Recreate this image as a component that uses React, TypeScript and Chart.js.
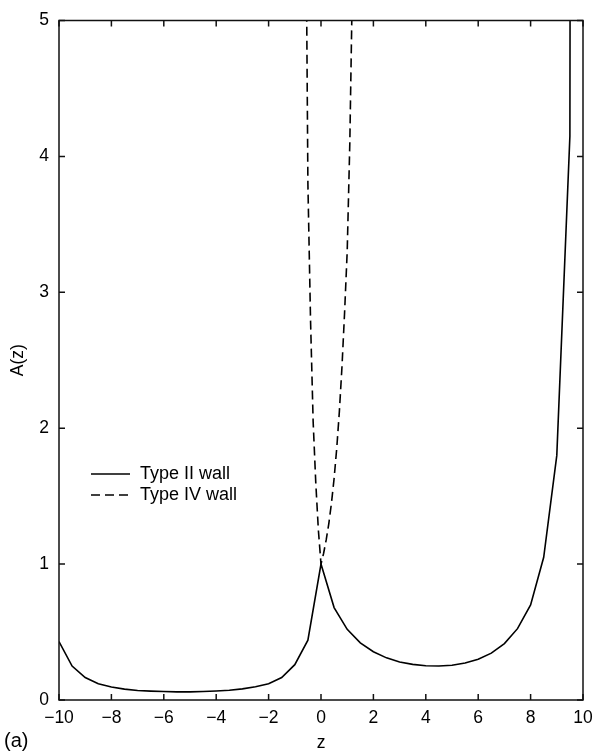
import React, { useEffect, useRef } from 'react';
import { Chart, registerables } from 'chart.js';

Chart.register(...registerables);

// ---- data ----
const zTypeII = [
  -10, -9.5, -9, -8.5, -8, -7.5, -7, -6.5, -6, -5.5, -5, -4.5, -4, -3.5, -3, -2.5, -2, -1.5, -1, -0.5,
  0, 0.5, 1, 1.5, 2, 2.5, 3, 3.5, 4, 4.5, 5, 5.5, 6, 6.5, 7, 7.5, 8, 8.5, 9, 9.5, 10,
];
const aTypeII = [
  0.43, 0.25, 0.165, 0.12, 0.095, 0.08, 0.07, 0.065, 0.062, 0.06, 0.06, 0.062, 0.066, 0.072, 0.082, 0.097, 0.12, 0.165, 0.26, 0.44,
  1.0, 0.68, 0.52, 0.42, 0.355, 0.31, 0.28, 0.262, 0.252, 0.25, 0.256, 0.272, 0.3, 0.345, 0.415, 0.525, 0.7, 1.05, 1.8, 4.15, 80,
];
const zTypeIV = [-0.6, -0.5, -0.4, -0.3, -0.2, -0.1, 0, 0.1, 0.2, 0.3, 0.4, 0.5, 0.6, 0.7, 0.8, 0.9, 1.0, 1.1, 1.2];
const aTypeIV = [6.5, 3.8, 2.8, 2.05, 1.6, 1.25, 1.0, 1.08, 1.18, 1.3, 1.45, 1.63, 1.85, 2.12, 2.45, 2.85, 3.3, 4.1, 5.3];

const xTicks = [-10, -8, -6, -4, -2, 0, 2, 4, 6, 8, 10];
const yTicks = [0, 1, 2, 3, 4, 5];
const seriesLabels = ['Type II wall', 'Type IV wall'];
const xTitle = 'z';
const yTitle = 'A(z)';
const panelLabel = '(a)';

const FONT_FAMILY = '"Liberation Sans", Arial, Helvetica, sans-serif';

const fmt = (v: number) => (v < 0 ? '\u2212' + Math.abs(v) : String(v));

const framePlugin = {
  id: 'frameAndLegend',
  afterDatasetsDraw(chart: any) {
    const { ctx, chartArea, scales } = chart;
    const { left, right, top, bottom } = chartArea;
    const x = scales.x;
    const y = scales.y;
    ctx.save();
    ctx.strokeStyle = '#111';
    ctx.lineWidth = 1.5;
    ctx.setLineDash([]);
    ctx.strokeRect(left, top, right - left, bottom - top);
    const tl = 6;
    ctx.beginPath();
    xTicks.forEach((v) => {
      const px = x.getPixelForValue(v);
      ctx.moveTo(px, bottom);
      ctx.lineTo(px, bottom - tl);
      ctx.moveTo(px, top);
      ctx.lineTo(px, top + tl);
    });
    yTicks.forEach((v) => {
      const py = y.getPixelForValue(v);
      ctx.moveTo(left, py);
      ctx.lineTo(left + tl, py);
      ctx.moveTo(right, py);
      ctx.lineTo(right - tl, py);
    });
    ctx.stroke();

    // legend
    const legendRows = [
      { y: 474, dash: [] as number[] },
      { y: 495, dash: [9, 5] },
    ];
    ctx.font = `18px ${FONT_FAMILY}`;
    ctx.fillStyle = '#000';
    ctx.textBaseline = 'middle';
    ctx.textAlign = 'left';
    legendRows.forEach((r, i) => {
      ctx.beginPath();
      ctx.setLineDash(r.dash);
      ctx.lineWidth = 1.5;
      ctx.strokeStyle = '#000';
      ctx.moveTo(91, r.y);
      ctx.lineTo(130, r.y);
      ctx.stroke();
      ctx.setLineDash([]);
      ctx.fillText(seriesLabels[i], 140, r.y);
    });

    // panel label
    ctx.font = `20px ${FONT_FAMILY}`;
    ctx.fillText(panelLabel, 4, 741);
    ctx.restore();
  },
};

export default function App() {
  const ref = useRef<HTMLCanvasElement | null>(null);

  useEffect(() => {
    if (!ref.current) return;
    const font = { family: FONT_FAMILY, size: 17.5 };
    const chart = new Chart(ref.current, {
      type: 'line',
      data: {
        datasets: [
          {
            label: seriesLabels[0],
            data: zTypeII.map((z, i) => ({ x: z, y: aTypeII[i] })),
            borderColor: '#000',
            borderWidth: 1.6,
            pointRadius: 0,
            tension: 0,
            fill: false,
          },
          {
            label: seriesLabels[1],
            data: zTypeIV.map((z, i) => ({ x: z, y: aTypeIV[i] })),
            borderColor: '#000',
            borderWidth: 1.6,
            borderDash: [9, 5],
            pointRadius: 0,
            tension: 0,
            fill: false,
          },
        ],
      },
      options: {
        animation: false,
        responsive: false,
        maintainAspectRatio: false,
        layout: { padding: { left: 0, right: 19, top: 14, bottom: 0 } },
        plugins: { legend: { display: false }, tooltip: { enabled: false } },
        scales: {
          x: {
            type: 'linear',
            min: -10,
            max: 10,
            afterBuildTicks: (s: any) => {
              s.ticks = xTicks.map((v) => ({ value: v }));
            },
            afterFit: (s: any) => {
              s.height = 55;
            },
            grid: { display: false, drawTicks: false },
            border: { display: false },
            ticks: {
              font,
              color: '#000',
              padding: 8,
              maxRotation: 0,
              autoSkip: false,
              callback: (v: any) => fmt(Number(v)),
            },
            title: { display: true, text: xTitle, font, color: '#000', padding: { top: 0, bottom: 1 } },
          },
          y: {
            type: 'linear',
            min: 0,
            max: 5,
            afterBuildTicks: (s: any) => {
              s.ticks = yTicks.map((v) => ({ value: v }));
            },
            afterFit: (s: any) => {
              s.width = 59;
            },
            grid: { display: false, drawTicks: false },
            border: { display: false },
            ticks: {
              font,
              color: '#000',
              padding: 10,
              autoSkip: false,
              callback: (v: any) => fmt(Number(v)),
            },
            title: { display: true, text: yTitle, font, color: '#000', padding: { top: 8, bottom: 0 } },
          },
        },
      },
      plugins: [framePlugin],
    });
    return () => chart.destroy();
  }, []);

  return (
    <div style={{ position: 'absolute', left: 0, top: 0, width: 602, height: 755, background: '#fff' }}>
      <canvas ref={ref} width={602} height={755} style={{ display: 'block', width: 602, height: 755 }} />
    </div>
  );
}
